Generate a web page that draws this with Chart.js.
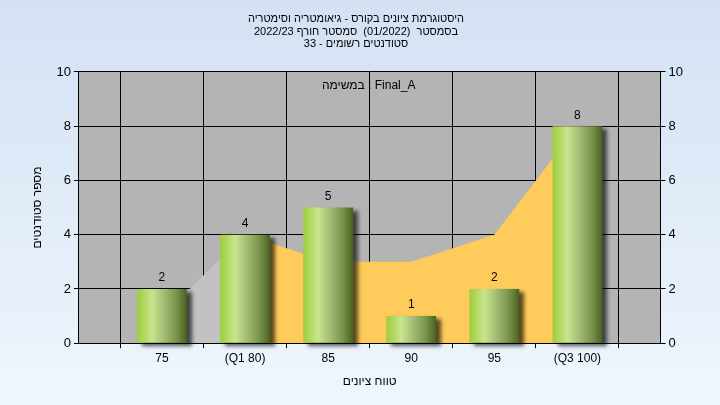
<!DOCTYPE html>
<html>
<head>
<meta charset="utf-8">
<script src="https://cdn.jsdelivr.net/npm/chart.js@4"></script>
<style>
  html, body { margin: 0; padding: 0; }
  #wrap { width: 720px; height: 405px; }
</style>
</head>
<body>
<div id="wrap"><canvas id="histChart" width="720" height="405"></canvas></div>
<script>
// data
const categories = ["75", "(Q1 80)", "85", "90", "95", "(Q3 100)"];
const counts = [2, 4, 5, 1, 2, 8];
const belowQ1 = [1, 4, null, null, null, null];   // grey area
const interQ = [null, 4, 3, 3, 4, 8];              // orange area
const yMax = 10;
const yStep = 2;

const titleLines = [
  "היסטוגרמת ציונים בקורס - גיאומטריה וסימטריה",
  "בסמסטר  (01/2022)  סמסטר חורף 2022/23",
  "סטודנטים רשומים - 33"
];
const taskLabel = "במשימה : Final_A";
const xTitle = "טווח ציונים";
const yTitle = "מספר סטודנטים";

// empty slot on both ends so the ticks sit where the original has them
const pad = arr => [null, ...arr, null];
const labels = ["", ...categories, ""];

const FONT = "'Liberation Sans', Arial, sans-serif";

const backdrop = {
  id: "backdrop",
  beforeDraw(chart) {
    const { ctx, chartArea: a, width, height } = chart;
    ctx.save();
    const g = ctx.createLinearGradient(0, 0, 0, height);
    g.addColorStop(0, "#d3e1f3");
    g.addColorStop(1, "#eff6fd");
    ctx.fillStyle = g;
    ctx.fillRect(0, 0, width, height);
    ctx.fillStyle = "#b4b4b4";
    ctx.fillRect(a.left, a.top, a.right - a.left, a.bottom - a.top);
    ctx.restore();
  }
};

const barShadow = {
  id: "barShadow",
  beforeDatasetDraw(chart, args) {
    if (args.index !== 0) return;
    const ctx = chart.ctx;
    ctx.save();
    ctx.shadowColor = "rgba(0,0,0,0.65)";
    ctx.shadowOffsetX = 5;
    ctx.shadowOffsetY = 3;
    ctx.shadowBlur = 4;
  },
  afterDatasetDraw(chart, args) {
    if (args.index !== 0) return;
    chart.ctx.restore();
  }
};

const extraText = {
  id: "extraText",
  afterDatasetsDraw(chart) {
    const { ctx, chartArea: a } = chart;
    const meta = chart.getDatasetMeta(0);
    ctx.save();
    ctx.fillStyle = "#000";
    ctx.font = "12px " + FONT;
    ctx.textAlign = "center";
    ctx.textBaseline = "bottom";
    meta.data.forEach((bar, i) => {
      const v = chart.data.datasets[0].data[i];
      if (v == null) return;
      ctx.fillText(String(v), bar.x, bar.y - 5);
    });
    ctx.textBaseline = "middle";
    ctx.fillText(taskLabel, (a.left + a.right) / 2 - 1, a.top + 14);
    ctx.restore();
  }
};

function barGradient(context) {
  const chart = context.chart;
  const xs = chart.scales.x;
  if (!xs || !chart.chartArea) return "#9acd32";
  const cx = xs.getPixelForValue(context.dataIndex);
  const w = (xs.getPixelForValue(1) - xs.getPixelForValue(0)) * 0.6;
  const g = chart.ctx.createLinearGradient(cx - w / 2, 0, cx + w / 2, 0);
  g.addColorStop(0, "#9dce3a");
  g.addColorStop(0.3, "#c8e58e");
  g.addColorStop(0.55, "#a2ba72");
  g.addColorStop(0.8, "#76924a");
  g.addColorStop(1, "#4a6120");
  return g;
}

new Chart(document.getElementById("histChart"), {
  data: {
    labels: labels,
    datasets: [
      {
        type: "bar",
        data: pad(counts),
        backgroundColor: barGradient,
        borderWidth: 0,
        barPercentage: 0.6,
        categoryPercentage: 1,
        order: 0,
        clip: false
      },
      {
        type: "line",
        data: pad(belowQ1),
        backgroundColor: "#c2c2c2",
        borderWidth: 0,
        pointRadius: 0,
        fill: "origin",
        tension: 0,
        order: 1
      },
      {
        type: "line",
        data: pad(interQ),
        backgroundColor: "#ffcb5a",
        borderWidth: 0,
        pointRadius: 0,
        fill: "origin",
        tension: 0,
        order: 1
      }
    ]
  },
  options: {
    responsive: false,
    animation: false,
    layout: { padding: { left: 26, right: 34, top: 7, bottom: 12 } },
    plugins: {
      legend: { display: false },
      tooltip: { enabled: false },
      title: {
        display: true,
        text: titleLines,
        color: "#000",
        font: { family: FONT, size: 11, weight: "normal", lineHeight: 1.18 },
        padding: { top: 5, bottom: 21 }
      }
    },
    scales: {
      x: {
        type: "category",
        offset: false,
        grid: { color: "#000", lineWidth: 1, tickLength: 5, drawOnChartArea: true },
        border: { color: "#000", width: 1 },
        ticks: { color: "#000", font: { family: FONT, size: 12 }, padding: 3, maxRotation: 0, autoSkip: false },
        title: {
          display: true,
          text: xTitle,
          color: "#000",
          font: { family: FONT, size: 12 },
          padding: { top: 6 }
        }
      },
      y: {
        position: "left",
        min: 0,
        max: yMax,
        grid: { color: "#000", lineWidth: 1, tickLength: 5 },
        border: { color: "#000", width: 1 },
        ticks: { stepSize: yStep, color: "#000", font: { family: FONT, size: 13 }, padding: 3 },
        title: {
          display: true,
          text: yTitle,
          color: "#000",
          font: { family: FONT, size: 12 },
          padding: { bottom: 9 }
        }
      },
      y2: {
        position: "right",
        min: 0,
        max: yMax,
        grid: { color: "#000", lineWidth: 1, tickLength: 5, drawOnChartArea: false },
        border: { color: "#000", width: 1 },
        ticks: { stepSize: yStep, color: "#000", font: { family: FONT, size: 13 }, padding: 3 }
      }
    }
  },
  plugins: [backdrop, barShadow, extraText]
});
</script>
</body>
</html>
